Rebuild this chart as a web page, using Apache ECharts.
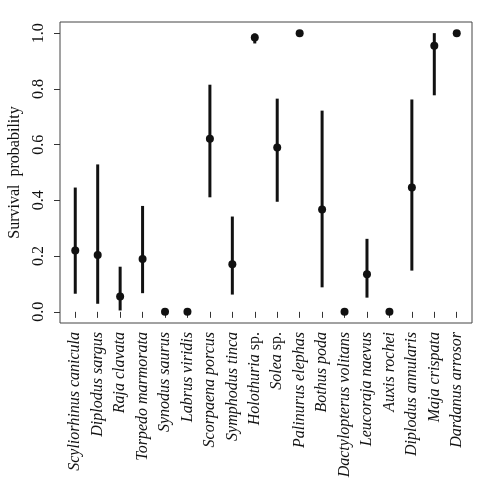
<!DOCTYPE html>
<html>
<head>
<meta charset="utf-8">
<script src="https://cdn.jsdelivr.net/npm/echarts@6/dist/echarts.min.js"></script>
<style>
  html, body { margin: 0; padding: 0; background: #fff; }
  #chart { width: 478px; height: 484px; }
</style>
</head>
<body>
<div id="chart"></div>
<script>
// species names; 'sp' marks names ending in an upright "sp."
var species = [
  'Scyliorhinus canicula', 'Diplodus sargus', 'Raja clavata', 'Torpedo marmorata',
  'Synodus saurus', 'Labrus viridis', 'Scorpaena porcus', 'Symphodus tinca',
  'Holothuria sp', 'Solea sp', 'Palinurus elephas', 'Bothus poda',
  'Dactylopterus volitans', 'Leucoraja naevus', 'Auxis rochei', 'Diplodus annularis',
  'Maja crispata', 'Dardanus arrosor'
];
var estimate = [0.220, 0.204, 0.055, 0.190, 0, 0, 0.621, 0.171, 0.984, 0.590, 1.0, 0.367, 0, 0.135, 0, 0.446, 0.955, 1.0];
var lower = [0.065, 0.029, 0.005, 0.067, null, null, 0.411, 0.062, 0.963, 0.395, null, 0.088, null, 0.051, null, 0.148, 0.777, null];
var upper = [0.446, 0.529, 0.162, 0.380, null, null, 0.815, 0.342, 0.999, 0.765, null, 0.722, null, 0.262, null, 0.762, 1.0, null];
var yTicks = [0, 0.2, 0.4, 0.6, 0.8, 1.0];

var xPos = species.map(function (s, i) { return i + 1; });

var chart = echarts.init(document.getElementById('chart'));

var pointData = estimate.map(function (v, i) { return [i + 1, v]; });
var barData = [];
for (var i = 0; i < species.length; i++) {
  if (lower[i] != null) barData.push([i + 1, lower[i], upper[i]]);
}

var option = {
  animation: false,
  backgroundColor: '#fff',
  grid: {
    left: 60, top: 22, right: 6, bottom: 161,
    containLabel: false,
    outerBoundsMode: 'none',
    show: true, borderColor: '#444', borderWidth: 1
  },
  xAxis: {
    type: 'value',
    min: 0.32, max: 18.68,
    splitLine: { show: false },
    axisLine: { show: false },
    axisTick: { show: true, customValues: xPos, length: 6, lineStyle: { color: '#333' } },
    axisLabel: {
      customValues: xPos,
      rotate: 90,
      margin: 9,
      fontFamily: 'Liberation Serif',
      fontSize: 16,
      fontStyle: 'italic',
      color: '#111',
      formatter: function (v) {
        var s = species[Math.round(v) - 1];
        if (s.slice(-3) === ' sp') return '{i|' + s.slice(0, -3) + '} {n|sp.}';
        return s;
      },
      rich: {
        i: { fontFamily: 'Liberation Serif', fontSize: 16, fontStyle: 'italic', color: '#111' },
        n: { fontFamily: 'Liberation Serif', fontSize: 16, fontStyle: 'normal', color: '#111' }
      }
    }
  },
  yAxis: {
    type: 'value',
    min: -0.04, max: 1.04,
    name: 'Survival  probability',
    nameLocation: 'middle',
    nameRotate: 90,
    nameGap: 37,
    nameTextStyle: { fontFamily: 'Liberation Serif', fontSize: 16, color: '#111' },
    splitLine: { show: false },
    axisLine: { show: false },
    axisTick: { show: true, customValues: yTicks, length: 6, lineStyle: { color: '#333' } },
    axisLabel: {
      customValues: yTicks,
      rotate: 90,
      margin: 13,
      fontFamily: 'Liberation Serif',
      fontSize: 16,
      color: '#111',
      formatter: function (v) { return v.toFixed(1); }
    }
  },
  series: [
    {
      type: 'custom',
      data: barData,
      renderItem: function (params, api) {
        var p1 = api.coord([api.value(0), api.value(1)]);
        var p2 = api.coord([api.value(0), api.value(2)]);
        return {
          type: 'line',
          shape: { x1: p1[0], y1: p1[1], x2: p2[0], y2: p2[1] },
          style: { stroke: '#111', lineWidth: 3 }
        };
      },
      z: 2
    },
    {
      type: 'scatter',
      data: pointData,
      symbol: 'circle',
      symbolSize: 8,
      itemStyle: { color: '#111', opacity: 1 },
      z: 3
    }
  ]
};

chart.setOption(option);
</script>
</body>
</html>
